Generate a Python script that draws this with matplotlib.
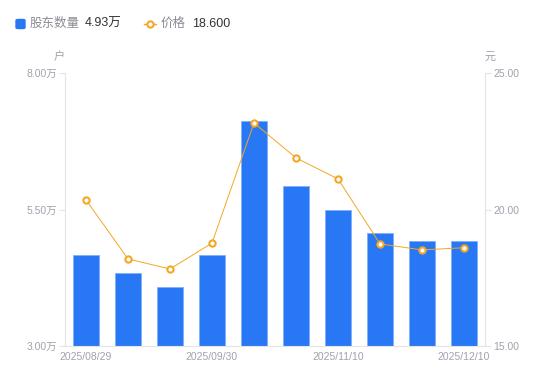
import matplotlib
matplotlib.use("Agg")
import matplotlib.pyplot as plt
import numpy as np

plt.rcParams['font.family'] = ['Liberation Sans', 'Noto Sans CJK SC', 'DejaVu Sans']

dates = ["2025/08/29", "2025/09/10", "2025/09/19", "2025/09/30", "2025/10/20",
         "2025/10/31", "2025/11/10", "2025/11/20", "2025/11/28", "2025/12/10"]
holders = [4.67, 4.34, 4.08, 4.67, 7.12, 5.93, 5.49, 5.07, 4.92, 4.93]  # 万户
price = [20.35, 18.19, 17.82, 18.77, 23.17, 21.89, 21.12, 18.74, 18.52, 18.60]
left_ticks = [3.0, 5.5, 8.0]
right_ticks = [15.0, 20.0, 25.0]

W, H = 550, 381
fig = plt.figure(figsize=(W/100, H/100), dpi=100)
L, R, T, B = 65, 485, 73, 346
ax = fig.add_axes([L/W, 1-B/H, (R-L)/W, (B-T)/H])
ax2 = ax.twinx()

gray = '#a0a1ad'
axcol = '#e3e4e8'
blue = '#2878f5'
orange = '#f5a623'

x = np.arange(len(dates))
ax.bar(x, [h - left_ticks[0] for h in holders], bottom=left_ticks[0], width=0.6,
       color=blue, edgecolor='#7fb0fa', linewidth=0.6, zorder=2)
ax.set_xlim(-0.5, len(dates)-0.5)
ax.set_ylim(left_ticks[0], left_ticks[-1])
ax.set_yticks(left_ticks)
ax.set_yticklabels([f"{v:.2f}万" for v in left_ticks])

ax2.plot(x, price, color=orange, linewidth=0.7, marker='o', markersize=4.5,
         markerfacecolor='white', markeredgecolor=orange, markeredgewidth=1.5, zorder=3)
ax2.set_ylim(right_ticks[0], right_ticks[-1])
ax2.set_yticks(right_ticks)
ax2.set_yticklabels([f"{v:.2f}" for v in right_ticks])

shown = [0, 3, 6, 9]
ax.set_xticks(shown)
ax.set_xticklabels([dates[i] for i in shown])

for a in (ax, ax2):
    for s in a.spines.values():
        s.set_visible(False)
    a.tick_params(colors=gray, labelsize=7.5, length=4, width=0.8, color=axcol)
ax.spines['left'].set_visible(True)
ax.spines['left'].set_color(axcol)
ax.spines['bottom'].set_visible(True)
ax.spines['bottom'].set_color(axcol)
ax2.spines['right'].set_visible(True)
ax2.spines['right'].set_color(axcol)
ax.tick_params(axis='x', length=0, pad=4)
ax.tick_params(axis='y', pad=2)
ax2.tick_params(axis='y', pad=2)

ax.set_zorder(1)
ax2.set_zorder(2)
ax.patch.set_visible(False)

# axis unit labels
fig.text(59/W, 1-57/H, "户", color=gray, fontsize=8, ha='center', va='center')
fig.text(490/W, 1-57/H, "元", color=gray, fontsize=8, ha='center', va='center')

# legend
ly = 1-24/H
fig.patches.append(matplotlib.patches.FancyBboxPatch((16/W, (H-28.5)/H), 9/W, 9/H,
                   boxstyle="round,pad=0,rounding_size=0.003", transform=fig.transFigure,
                   color=blue))
fig.text(30/W, ly, "股东数量", color='#8a8b96', fontsize=9, va='center')
fig.text(85/W, ly, f"{holders[-1]:.2f}万", color='#333333', fontsize=9, va='center')
fig.lines.append(matplotlib.lines.Line2D([144/W, 156/W], [ly, ly], transform=fig.transFigure,
                 color=orange, linewidth=1))
fig.lines.append(matplotlib.lines.Line2D([150/W], [ly], transform=fig.transFigure,
                 marker='o', markersize=4.5, markerfacecolor='white',
                 markeredgecolor=orange, markeredgewidth=1.5))
fig.text(161/W, ly, "价格", color='#8a8b96', fontsize=9, va='center')
fig.text(192/W, ly, f"{price[-1]:.3f}", color='#333333', fontsize=9, va='center')

fig.savefig("out.png", dpi=100)
